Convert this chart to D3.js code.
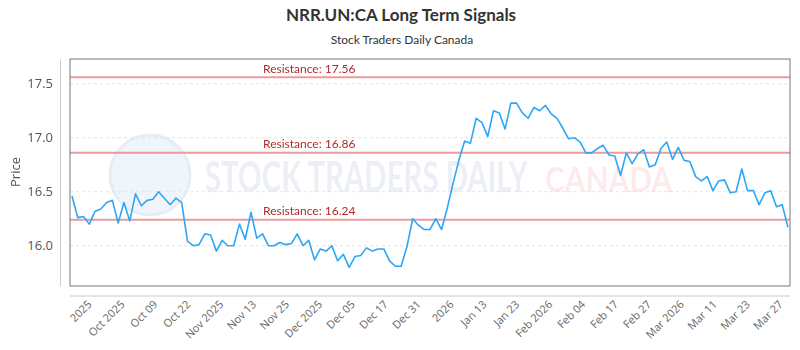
<!DOCTYPE html>
<html>
<head>
<meta charset="utf-8">
<script src="https://cdn.jsdelivr.net/npm/d3@7"></script>
<style>
  body { margin: 0; background: #fff; }
  svg { display: block; font-family: Lato, "Open Sans", sans-serif; }
</style>
</head>
<body>
<svg id="chart"></svg>
<script>
// closing prices, one per trading day
const prices = [
  16.46, 16.26, 16.27, 16.20, 16.32, 16.34, 16.40, 16.42, 16.21, 16.40,
  16.23, 16.48, 16.37, 16.42, 16.43, 16.50, 16.44, 16.38, 16.44, 16.40,
  16.04, 16.00, 16.01, 16.11, 16.10, 15.95, 16.05, 16.00, 16.00, 16.20,
  16.06, 16.31, 16.07, 16.11, 16.00, 16.00, 16.03, 16.01, 16.02, 16.11,
  16.00, 16.05, 15.87, 15.97, 15.95, 16.00, 15.86, 15.92, 15.80, 15.90,
  15.91, 15.98, 15.95, 15.97, 15.97, 15.86, 15.81, 15.81, 15.99, 16.25,
  16.19, 16.15, 16.15, 16.25, 16.15, 16.35, 16.58, 16.79, 16.97, 16.95,
  17.18, 17.14, 17.01, 17.25, 17.23, 17.08, 17.32, 17.32, 17.23, 17.18,
  17.28, 17.25, 17.30, 17.22, 17.18, 17.09, 16.99, 17.00, 16.96, 16.86,
  16.86, 16.90, 16.93, 16.84, 16.83, 16.65, 16.86, 16.76, 16.85, 16.89,
  16.73, 16.75, 16.90, 16.96, 16.80, 16.91, 16.79, 16.78, 16.64, 16.60,
  16.64, 16.51, 16.60, 16.61, 16.49, 16.50, 16.71, 16.51, 16.51, 16.38,
  16.49, 16.51, 16.36, 16.38, 16.17
];

const resistance = [17.56, 16.86, 16.24];

const xLabels = ["2025", "Oct 2025", "Oct 09", "Oct 22", "Nov 2025", "Nov 13", "Nov 25",
  "Dec 2025", "Dec 05", "Dec 17", "Dec 31", "2026", "Jan 13", "Jan 23", "Feb 2026",
  "Feb 04", "Feb 17", "Feb 27", "Mar 2026", "Mar 11", "Mar 23", "Mar 27"];

const yTicks = [16.0, 16.5, 17.0, 17.5];

const width = 800, height = 350;
const plot = {left: 70, right: 790, top: 59, bottom: 286};

const svg = d3.select("#chart")
  .attr("width", width)
  .attr("height", height);

const x = d3.scaleLinear()
  .domain([0, prices.length - 1])
  .range([plot.left + 2, plot.right - 2]);

const y = d3.scaleLinear()
  .domain([15.627, 17.729])
  .range([plot.bottom, plot.top]);

// labels are spread evenly along the bottom axis
const xl = d3.scalePoint()
  .domain(xLabels)
  .range([92, 783]);

// titles
svg.append("text")
  .attr("x", 401).attr("y", 21)
  .attr("text-anchor", "middle")
  .style("font-size", "17px").style("font-weight", "bold")
  .attr("fill", "#333")
  .text("NRR.UN:CA Long Term Signals");

svg.append("text")
  .attr("x", 402).attr("y", 44)
  .attr("text-anchor", "middle")
  .style("font-size", "12px")
  .attr("fill", "#333")
  .text("Stock Traders Daily Canada");

// watermark, squeezed horizontally to the reference widths
const wm = svg.append("g").attr("opacity", 0.6);
wm.append("circle")
  .attr("cx", 150).attr("cy", 175).attr("r", 40)
  .attr("fill", "#e6eef8").attr("stroke", "#d5e2f2").attr("stroke-width", 3);

function squeezed(txt, x0, y0, size, w, color) {
  const t = wm.append("text")
    .style("font-size", size + "px").style("font-weight", "bold")
    .attr("fill", color)
    .text(txt);
  const natural = t.node().getComputedTextLength();
  t.attr("transform", `translate(${x0},${y0}) scale(${w / natural},1)`);
}
squeezed("STOCK TRADERS DAILY", 205, 192, 42, 323, "#dfe5ee");
squeezed("CANADA", 545, 192, 35, 127, "#fcdde0");

// grid
svg.append("g")
  .selectAll("line")
  .data(yTicks)
  .join("line")
    .attr("x1", plot.left).attr("x2", plot.right)
    .attr("y1", d => y(d)).attr("y2", d => y(d))
    .attr("stroke", "#e3e3e3")
    .attr("stroke-dasharray", "3,3");

// y axis, drawn off to the left of the plot frame
const yAxis = d3.axisLeft(y)
  .tickValues(yTicks)
  .tickFormat(d3.format(".1f"))
  .tickSize(0)
  .tickPadding(7);

const yAxisGroup = svg.append("g")
  .attr("transform", `translate(60,0)`)
  .call(yAxis);
yAxisGroup.select(".domain").attr("stroke", "#ccc");
yAxisGroup.selectAll("text")
  .style("font-family", "'Open Sans', sans-serif")
  .style("font-size", "13px")
  .attr("fill", "#555");

svg.append("text")
  .attr("transform", "translate(20,172) rotate(-90)")
  .attr("text-anchor", "middle")
  .style("font-family", "'Open Sans', sans-serif")
  .style("font-size", "13px")
  .attr("fill", "#555")
  .text("Price");

// x axis line with rotated labels
const xAxis = d3.axisBottom(xl).tickSize(0).tickPadding(0);
const xAxisGroup = svg.append("g")
  .attr("transform", `translate(0,296)`)
  .call(xAxis);
xAxisGroup.select(".domain").attr("d", `M${plot.left},0H${plot.right}`).attr("stroke", "#ccc");
xAxisGroup.selectAll("text")
  .attr("y", 0).attr("dy", 0)
  .attr("text-anchor", "end")
  .attr("transform", "translate(0,9) rotate(-45)")
  .style("font-family", "'Open Sans', sans-serif")
  .style("font-size", "11px")
  .attr("fill", "#666");

// resistance levels
const res = svg.append("g");
res.selectAll("line")
  .data(resistance)
  .join("line")
    .attr("x1", plot.left).attr("x2", plot.right)
    .attr("y1", d => y(d)).attr("y2", d => y(d))
    .attr("stroke", "#ec9a9a")
    .attr("stroke-width", 2);
res.selectAll("text")
  .data(resistance)
  .join("text")
    .attr("x", 263)
    .attr("y", d => y(d) - 4.5)
    .style("font-size", "12px")
    .attr("fill", "#b22a2a")
    .text(d => `Resistance: ${d.toFixed(2)}`);

// price line
const line = d3.line()
  .x((d, i) => x(i))
  .y(d => y(d));

svg.append("path")
  .datum(prices)
  .attr("d", line)
  .attr("fill", "none")
  .attr("stroke", "#2ea6f6")
  .attr("stroke-width", 1.6)
  .attr("stroke-linejoin", "round");

// plot frame
svg.append("rect")
  .attr("x", plot.left).attr("y", plot.top)
  .attr("width", plot.right - plot.left)
  .attr("height", plot.bottom - plot.top)
  .attr("fill", "none")
  .attr("stroke", "#777")
  .attr("stroke-width", 1);
</script>
</body>
</html>
